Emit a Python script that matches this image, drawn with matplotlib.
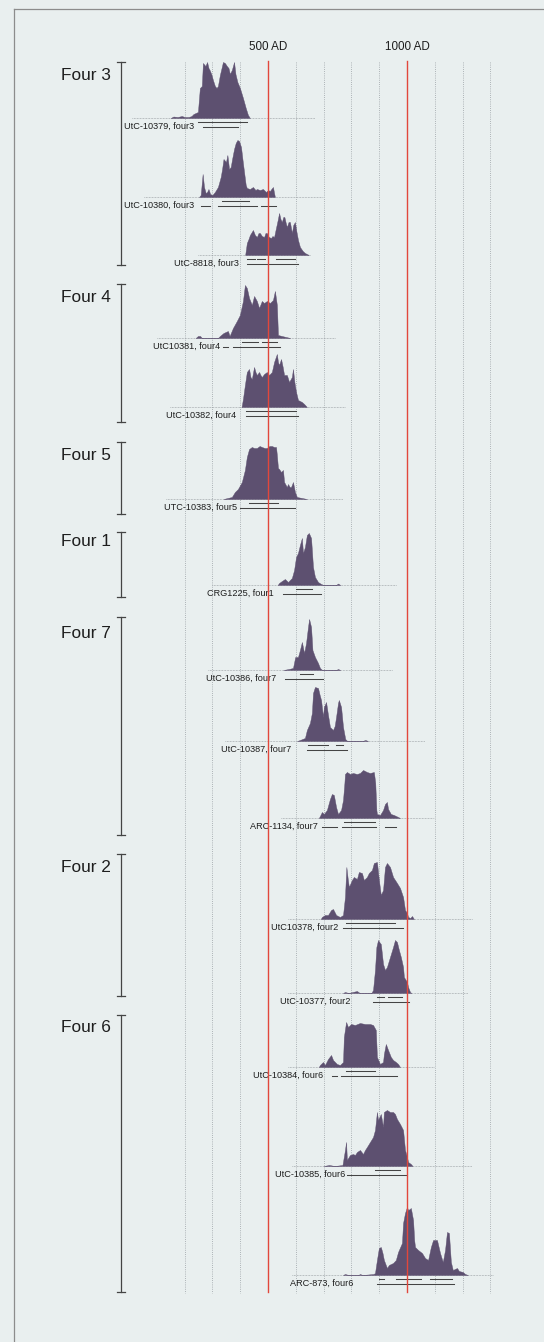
import matplotlib.pyplot as plt
from matplotlib.lines import Line2D

# calibrated dates: (calendar year AD, plotted height)
utc10379 = [(150, 0), (160, 1.5), (175, 1), (190, 2), (200, 1), (215, 1), (225, 2), (232, 4), (248, 6),
            (255, 30), (262, 32), (266, 55), (275, 52), (281, 56), (286, 50), (290, 48), (296, 44),
            (302, 38), (309, 32), (315, 30), (320, 32), (327, 43), (333, 50), (338, 56), (345, 55),
            (352, 52), (358, 50), (363, 44), (370, 48), (378, 56), (383, 44), (390, 36), (399, 30),
            (410, 20), (420, 10), (428, 3), (435, 0)]
utc10380 = [(252, 0), (258, 2), (265, 23), (270, 10), (276, 4), (281, 5), (286, 8), (292, 3), (300, 2),
            (309, 5), (320, 10), (330, 20), (335, 28), (340, 38), (349, 35), (354, 42), (360, 28),
            (366, 30), (371, 38), (378, 48), (384, 54), (390, 57), (396, 56), (403, 50), (409, 36),
            (414, 25), (420, 12), (424, 9), (435, 8), (446, 10), (455, 7), (460, 8), (471, 7), (482, 8),
            (493, 5), (500, 7), (507, 6), (512, 8), (518, 10), (522, 4), (525, 0)]
utc8818 = [(418, 0), (424, 12), (430, 16), (435, 20), (446, 25), (453, 20), (460, 18), (466, 22),
           (471, 22), (478, 19), (486, 18), (491, 22), (496, 22), (503, 18), (511, 17), (516, 19),
           (522, 18), (528, 26), (535, 35), (540, 42), (545, 36), (550, 33), (555, 38), (559, 38),
           (564, 32), (568, 28), (574, 33), (579, 33), (586, 22), (591, 30), (597, 33), (602, 24),
           (608, 15), (615, 8), (625, 4), (633, 2), (647, 0)]
utc10381 = [(240, 0), (248, 2), (256, 2), (262, 0), (320, 0), (327, 2), (340, 5), (356, 7), (362, 2),
            (374, 10), (388, 17), (399, 23), (410, 37), (417, 53), (424, 50), (432, 40), (442, 33),
            (450, 42), (460, 37), (468, 30), (478, 37), (486, 35), (496, 37), (507, 35), (518, 38),
            (525, 47), (532, 33), (536, 3), (550, 2), (565, 1), (580, 0)]
utc10382 = [(405, 0), (410, 8), (417, 22), (424, 35), (432, 38), (437, 30), (442, 28), (450, 40),
            (455, 35), (460, 32), (468, 35), (473, 32), (478, 30), (486, 33), (496, 35), (504, 32),
            (514, 35), (518, 40), (522, 45), (532, 53), (536, 45), (540, 42), (547, 48), (553, 40),
            (558, 32), (568, 32), (576, 25), (582, 28), (586, 30), (590, 38), (595, 25), (601, 15),
            (608, 7), (622, 5), (630, 3), (640, 0)]
utc10383 = [(340, 0), (355, 1), (370, 2), (381, 7), (392, 10), (406, 17), (417, 29), (424, 42),
            (432, 50), (442, 52), (450, 51), (460, 51), (470, 53), (478, 52), (488, 51), (496, 51),
            (505, 53), (514, 53), (522, 52), (529, 52), (532, 44), (536, 31), (540, 30), (547, 27),
            (554, 29), (558, 17), (568, 12), (572, 15), (578, 12), (583, 12), (590, 17), (597, 7),
            (604, 2), (622, 1), (640, 0)]
crg1225 = [(535, 0), (540, 2), (550, 4), (561, 6), (572, 3), (586, 7), (594, 15), (601, 28), (608, 32),
           (615, 40), (622, 47), (626, 32), (633, 38), (640, 50), (647, 52), (655, 47), (662, 18),
           (669, 8), (680, 3), (691, 1), (700, 0), (745, 0), (752, 1.5), (760, 0)]
utc10386 = [(555, 0), (575, 1), (590, 2), (598, 13), (608, 13), (615, 20), (622, 28), (630, 17),
            (637, 27), (644, 43), (648, 51), (655, 43), (660, 20), (669, 13), (680, 7), (687, 2),
            (695, 0), (745, 0), (752, 1), (760, 0)]
utc10387 = [(605, 0), (615, 1), (633, 3), (640, 11), (651, 18), (658, 28), (662, 48), (669, 54),
            (680, 53), (686, 46), (691, 41), (698, 24), (701, 34), (709, 39), (716, 26), (723, 14),
            (734, 11), (740, 15), (745, 24), (752, 38), (755, 41), (763, 34), (770, 14), (778, 2),
            (785, 0), (840, 0), (850, 1), (860, 0)]
arc1134 = [(683, 0), (687, 2), (694, 6), (701, 4), (712, 8), (723, 19), (730, 24), (737, 23), (745, 11),
           (752, 4), (763, 8), (770, 18), (775, 35), (777, 44), (784, 46), (795, 44), (806, 45),
           (820, 44), (831, 45), (842, 48), (856, 46), (867, 45), (881, 46), (886, 35), (890, 8),
           (892, 4), (903, 3), (914, 8), (921, 14), (928, 16), (932, 9), (942, 4), (953, 3), (968, 1),
           (975, 0)]
utc10378 = [(690, 0), (694, 2), (705, 4), (716, 4), (727, 9), (734, 10), (745, 4), (759, 2), (770, 4),
            (777, 22), (782, 52), (787, 40), (791, 32), (802, 39), (809, 42), (820, 40), (827, 47),
            (838, 46), (845, 39), (856, 42), (863, 46), (874, 49), (881, 56), (892, 57), (899, 39),
            (906, 24), (914, 29), (921, 52), (928, 56), (939, 52), (950, 42), (957, 39), (964, 36),
            (975, 31), (986, 22), (993, 9), (1000, 6), (1004, 2), (1012, 1), (1018, 3), (1025, 0)]
utc10377 = [(770, 0), (777, 1), (790, 0), (820, 2), (830, 0), (872, 0), (878, 3), (885, 23), (890, 46),
            (896, 53), (903, 50), (906, 49), (914, 29), (921, 23), (928, 26), (939, 36), (950, 46),
            (957, 53), (964, 51), (971, 43), (978, 36), (986, 26), (989, 16), (1000, 11), (1004, 6),
            (1011, 1), (1016, 0)]
utc10384 = [(683, 0), (687, 2), (698, 5), (705, 2), (716, 8), (727, 12), (734, 7), (748, 3), (759, 2),
            (770, 5), (773, 30), (781, 45), (788, 40), (799, 43), (813, 42), (831, 44), (849, 43),
            (867, 43), (878, 42), (888, 37), (892, 10), (903, 3), (914, 5), (917, 13), (924, 23),
            (932, 17), (942, 10), (950, 7), (960, 5), (968, 3), (975, 0)]
utc10385 = [(700, 0), (720, 1), (740, 0), (768, 1), (777, 16), (781, 24), (784, 6), (795, 11),
            (806, 12), (813, 11), (820, 14), (831, 16), (842, 12), (849, 16), (856, 19), (867, 24),
            (878, 29), (885, 36), (892, 54), (896, 46), (906, 52), (914, 39), (917, 54), (928, 56),
            (939, 54), (950, 54), (957, 52), (964, 47), (975, 42), (986, 36), (993, 16), (1000, 9),
            (1004, 4), (1014, 2), (1020, 0)]
arc873 = [(770, 0), (777, 1), (790, 0), (825, 0), (831, 1), (840, 0), (880, 1), (885, 2), (892, 15),
          (899, 27), (906, 28), (912, 22), (917, 15), (928, 7), (935, 10), (950, 12), (960, 15),
          (968, 23), (982, 32), (986, 52), (993, 62), (1000, 68), (1004, 65), (1010, 66), (1014, 67),
          (1022, 55), (1026, 35), (1029, 28), (1040, 25), (1054, 22), (1065, 17), (1076, 15),
          (1086, 28), (1094, 35), (1108, 35), (1119, 22), (1129, 13), (1137, 25), (1144, 43),
          (1151, 42), (1158, 13), (1165, 5), (1180, 7), (1187, 4), (1201, 3), (1209, 1), (1219, 0)]

sample_names = ["UtC-10379, four3", "UtC-10380, four3", "UtC-8818, four3", "UtC10381, four4",
                "UtC-10382, four4", "UTC-10383, four5", "CRG1225, four1", "UtC-10386, four7",
                "UtC-10387, four7", "ARC-1134, four7", "UtC10378, four2", "UtC-10377, four2",
                "UtC-10384, four6", "UtC-10385, four6", "ARC-873, four6"]
densities = [utc10379, utc10380, utc8818, utc10381, utc10382, utc10383, crg1225, utc10386,
             utc10387, arc1134, utc10378, utc10377, utc10384, utc10385, arc873]

# upper and lower range bars (years AD)
range_upper = [[(248, 424)], [(335, 432)], [(424, 453), (462, 489), (529, 597)],
               [(406, 464), (478, 532)], [(421, 601)], [(432, 536)], [(601, 658)], [(615, 662)],
               [(644, 716), (745, 770)], [(772, 884)], [(781, 957)], [(892, 917), (932, 982)],
               [(781, 885)], [(885, 975)], [(899, 917), (960, 1050), (1083, 1162)]]
range_lower = [[(266, 392)], [(259, 291), (320, 460), (475, 530)], [(424, 608)],
               [(338, 356), (374, 543)], [(421, 608)], [(399, 597)], [(554, 691)], [(561, 698)],
               [(640, 784)], [(694, 747), (766, 889), (921, 959)], [(770, 986)], [(878, 1007)],
               [(730, 748), (763, 964)], [(784, 1000)], [(892, 1169)]]
# extent of each dotted baseline (years AD)
span = [(11, 669), (54, 698), (250, 650), (100, 741), (147, 777), (133, 770), (300, 960), (284, 946),
        (347, 1065), (547, 1097), (572, 1234), (572, 1220), (572, 1097), (585, 1234), (585, 1309)]

groups = ["Four 3", "Four 4", "Four 5", "Four 1", "Four 7", "Four 2", "Four 6"]
ad_marks = [500, 1000]
grid_years = [200, 300, 400, 600, 700, 800, 900, 1100, 1200, 1300]

# layout (pixel rows on the page)
baseline = [118, 197, 255, 338, 407, 499, 585, 670, 741, 818, 919, 993, 1067, 1166, 1275]
label_end = [234, 234, 396, 327, 385, 388, 522, 529, 583, 678, 752, 795, 698, 777, 806]
group_top = [62, 284, 442, 532, 617, 854, 1015]
group_bot = [265, 422, 514, 597, 835, 996, 1292]
group_label_y = [75, 298, 455, 542, 633, 868, 1027]

W, H = 544, 1342
bg = "#e9efef"
fill_col = "#5d5070"
ink = "#1e1e1e"
font = ["Liberation Sans", "DejaVu Sans"]

fig = plt.figure(figsize=(W / 100, H / 100), dpi=100, facecolor=bg)
ax = fig.add_axes([0, 0, 1, 1])
ax.set_facecolor(bg)
ax.set_xlim(-464, 1493)
ax.set_ylim(H, 0)
ax.axis("off")

# page frame
fig.add_artist(Line2D([14 / W, 14 / W], [0, 1 - 9 / H], color="#8c8c8c", lw=0.9))
fig.add_artist(Line2D([14 / W, 1], [1 - 9 / H, 1 - 9 / H], color="#8c8c8c", lw=0.9))

for yr in grid_years:
    ax.plot([yr, yr], [62, 1293], color="#9aa0a4", lw=0.6, ls=(0, (1, 1.6)), zorder=1)
for yr in ad_marks:
    ax.plot([yr, yr], [61, 1292], color="#e2473c", lw=1.0, zorder=4)
    ax.text(yr, 47, f"{yr} AD", ha="center", va="center", fontsize=8.4, color=ink, family=font)

for i, name in enumerate(sample_names):
    b = baseline[i]
    yrs = [p[0] for p in densities[i]]
    hts = [b - p[1] for p in densities[i]]
    ax.plot(span[i], [b, b], color="#8a8f94", lw=0.5, ls=(0, (1, 1.2)), zorder=2)
    ax.fill_between(yrs, hts, b, color=fill_col, lw=0.3, edgecolor=fill_col, zorder=3)
    for a, e in range_upper[i]:
        ax.plot([a, e], [b + 4, b + 4], color="#444444", lw=0.75, zorder=3)
    for a, e in range_lower[i]:
        ax.plot([a, e], [b + 8.5, b + 8.5], color="#444444", lw=0.75, zorder=3)
    ax.text(label_end[i], b + 8.2, name, ha="right", va="center", fontsize=6.6, color=ink,
            family=font)

bx = -29
for g, top, bot, ly in zip(groups, group_top, group_bot, group_label_y):
    ax.plot([bx, bx], [top, bot], color="#444444", lw=0.9)
    ax.plot([bx - 14, bx + 14], [top, top], color="#444444", lw=0.9)
    ax.plot([bx - 14, bx + 14], [bot, bot], color="#444444", lw=0.9)
    ax.text(-65, ly, g, ha="right", va="center", fontsize=12.4, color=ink, family=font)

fig.savefig("out.png", dpi=100, facecolor=bg)
